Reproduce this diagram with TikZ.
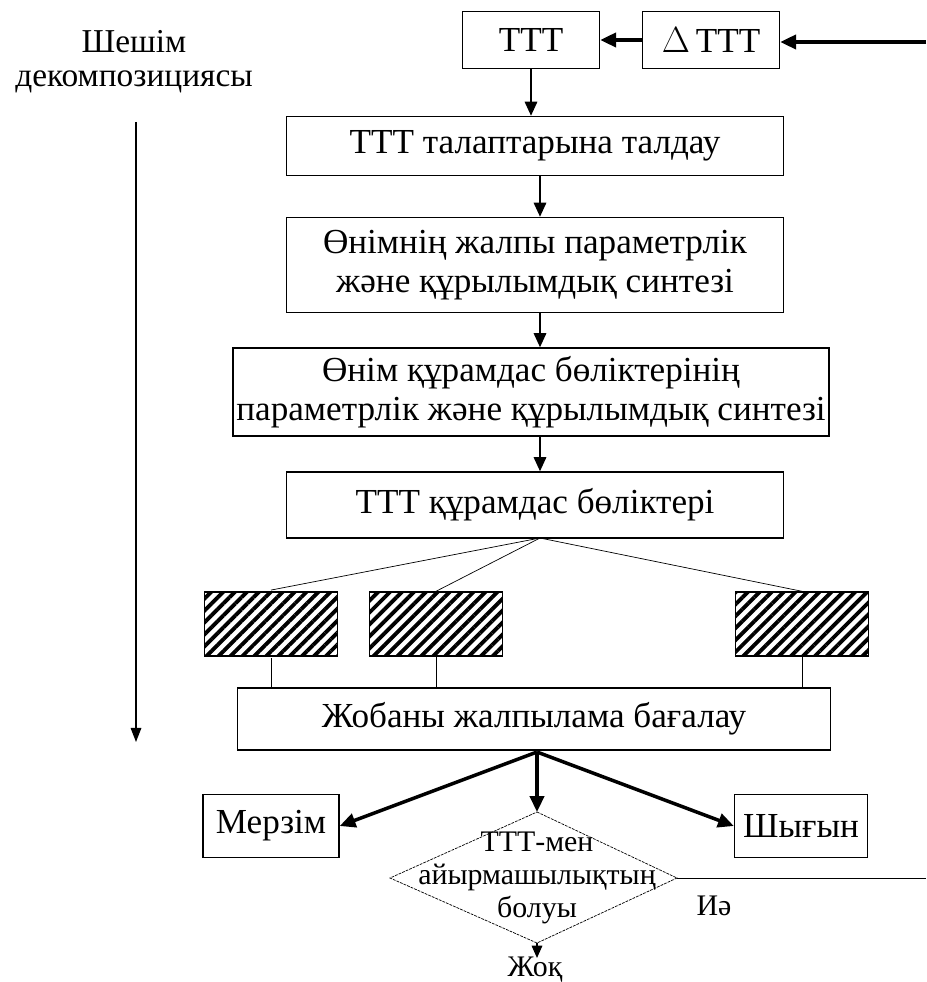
\documentclass[tikz,border=0pt]{standalone}
\usepackage{fontspec}
\setmainfont{Liberation Serif}
\usetikzlibrary{arrows.meta, positioning, patterns.meta}

\begin{document}
\begin{tikzpicture}[x=0.02cm, y=-0.02cm,
  box/.style={draw, thick, fill=white, align=center, inner sep=2pt, font=\fontsize{20}{22}\selectfont},
  hatch/.style={draw, thick, minimum width=2.66cm, minimum height=1.28cm,
    pattern={Lines[angle=45, distance=4.8pt, line width=2.2pt]}},
  flow/.style={-{Triangle[length=8pt, width=7pt]}, line width=1.2pt},
  bold/.style={-{Triangle[length=9pt, width=8pt]}, line width=2pt},
  link/.style={thin},
  lbl/.style={font=\fontsize{19}{21}\selectfont, align=center, inner sep=0pt},
  small/.style={font=\fontsize{17}{19}\selectfont, align=center}]
\useasboundingbox (0,0) rectangle (926,982);

% Left side
\node[lbl] (dec1) at (134,42) {Шешім};
\node[lbl] (dec2) at (134,82) {декомпозициясы};
\coordinate (decA) at (136,122);
\coordinate (decB) at (136,742);
\draw[-{Triangle[length=8pt, width=6pt]}, line width=0.8pt] (decA) -- (decB);

% Top row
\node[box, minimum width=2.74cm, minimum height=1.14cm] (ttt) at (531,40) {ТТТ};
\node[box, minimum width=2.74cm, minimum height=1.14cm] (dttt) at (711,40) {$\Delta$\,ТТТ};
\coordinate (in) at (926,42);
\draw[bold] (in) -- (in -| dttt.east);
\draw[bold] (dttt) -- (ttt);

% Main chain
\node[box, minimum width=9.94cm, minimum height=1.18cm] (analysis) at (535,146) {ТТТ талаптарына талдау};
\node[box, minimum width=9.94cm, minimum height=1.9cm] (synth) at (535,265) {Өнімнің жалпы параметрлік\\және құрылымдық синтезі};
\node[box, minimum width=11.8cm, minimum height=1.76cm] (compsynth) at (531,392) {Өнім құрамдас бөліктерінің\\параметрлік және құрылымдық синтезі};
\node[box, minimum width=9.94cm, minimum height=1.32cm] (parts) at (535,505) {ТТТ құрамдас бөліктері};

\draw[flow] (ttt.south) -- (ttt.south |- analysis.north);
\draw[flow] (analysis.south -| 540,0) -- (synth.north -| 540,0);
\draw[flow] (synth.south -| 540,0) -- (compsynth.north -| 540,0);
\draw[flow] (compsynth.south -| 540,0) -- (parts.north -| 540,0);

% Component blocks
\node[hatch] (h1) at (271,624) {};
\node[hatch] (h2) at (436,624) {};
\node[hatch] (h3) at (802,624) {};
\coordinate (fan) at (540,538);
\foreach \h in {h1,h2,h3}
  \draw[link] (fan) -- (\h.north);

\node[box, minimum width=11.86cm, minimum height=1.24cm] (eval) at (534,719) {Жобаны жалпылама бағалау};
\foreach \h in {h1,h2,h3}
  \draw[link] (\h.south) -- (\h.south |- eval.north);

% Results
\node[box, minimum width=2.72cm, minimum height=1.26cm] (term) at (271,826) {Мерзім};
\node[box, minimum width=2.66cm, minimum height=1.26cm] (cost) at (801,826) {Шығын};
\coordinate (top) at (537,812);
\coordinate (left) at (390,878);
\coordinate (bot) at (537,943);
\coordinate (right) at (677,878);
\draw[thin, dash pattern=on 1.6pt off 0.6pt] (top) -- (right) -- (bot) -- (left) -- cycle;
\node[small] (check) at (537,878) {ТТТ-мен\\айырмашылықтың\\болуы};

\coordinate (split) at (537,752);
\draw[bold] (split) -- (term.east);
\draw[bold] (split) -- (cost.west);
\draw[bold] (split) -- (top);

% Decision outputs
\coordinate (out) at (926,878);
\draw[thin] (right) -- (out);
\node[small] (yes) at (714,906) {Иә};
\coordinate (no) at (537,958);
\draw[-{Triangle[length=7pt, width=6pt]}, line width=0.8pt] (bot) -- (no);
\node[small] (nolbl) at (535,970) {Жоқ};
\end{tikzpicture}
\end{document}
